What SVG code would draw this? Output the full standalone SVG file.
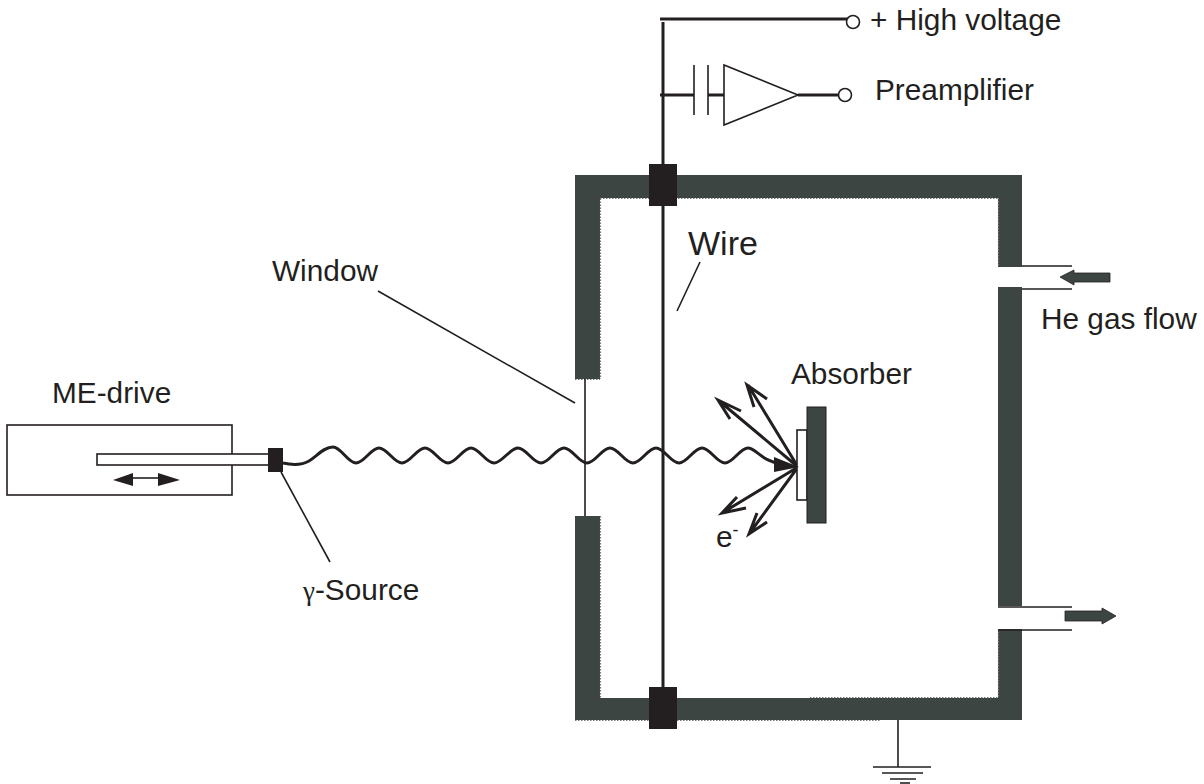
<svg xmlns="http://www.w3.org/2000/svg" width="1204" height="784" viewBox="0 0 1204 784">
<style>
.w{fill:#3d4543}
.b{fill:#231f20}
.l{fill:none;stroke:#231f20;stroke-width:1.6}
.m{fill:none;stroke:#231f20;stroke-width:3}
.a{fill:none;stroke:#231f20;stroke-width:3;stroke-linejoin:miter}
.d{fill:none;stroke:#777;stroke-width:1.200;stroke-dasharray:1.500 1.500}
.c{fill:#fff;stroke:#231f20;stroke-width:1.6}
text{font-family:"Liberation Sans",Arial,sans-serif;font-size:29.800px;fill:#231f20}
</style>
<rect width="1204" height="784" fill="#fff"/>
<g id="chamber">
<path class="w" d="M575 175H1022V267H998V198H600V379H575ZM998 287H1022V606H998ZM998 629H1022V720H575V516H600V698H998Z"/>
<path class="d" d="M600 198.500H998M600.500 198.500V379M575 379.500H600M600.500 516V698M810 697.500H998M575 720.500H880M998.500 198V267M998.500 629V698"/>
</g>
<g id="connectors">
<path class="m" d="M660 19H848M663 22V700"/>
<path class="m" d="M660 95H694M708 95H724M798 95H839"/>
<path class="l" d="M378 291L575 403M700 262L677 311M281 472L330 562M585 379V516"/>
<path class="m" d="M283 463C292 465 302 465 309 461C317 456 324 447 333 447C341 447 348 463 356 463S371 448 379 448S394 463 402 463S417 448 425 448S440 463 448 463S463 448 471 448S486 463 494 463S510 448 518 448S533 463 541 463S556 448 564 448S579 463 587 463S602 448 610 448S625 463 633 463S648 448 656 448S671 463 679 463S694 448 702 448S717 463 725 463S740 448 748 448S762 462 782 464"/>
<path class="a" d="M798 467L718 400M741 411L718 400L730 419M798 467L748 385M767 399L747 385L754 407M798 467L722 513M737 497L722 513L746 508M798 467L749 534M757 513L749 534L767 522"/>
<path class="l" d="M1022 266H1072M1022 289H1072M998 607H1072M998 630H1072"/>
<path class="l" d="M898 720V767"/>
</g>
<g id="capacitor"><path class="l" d="M694 65V115M708 65V115"/></g>
<g id="amplifier"><path class="c" d="M724 65V125L798 95Z"/></g>
<g id="high-voltage-terminal"><circle class="c" cx="853" cy="22" r="6.500"/></g>
<g id="preamp-terminal"><circle class="c" cx="845" cy="95" r="6.500"/></g>
<g id="feedthrough-top"><rect class="b" x="649" y="164" width="28" height="42"/></g>
<g id="feedthrough-bottom"><rect class="b" x="649" y="687" width="28" height="42"/></g>
<g id="absorber">
<rect x="797" y="430" width="10" height="70" class="c"/>
<rect x="807" y="407" width="19" height="116" class="w" stroke="#231f20" stroke-width="1"/>
<path class="b" d="M774 457L799 467L774 472Z"/>
</g>
<g id="me-drive">
<rect x="7" y="425" width="225" height="70" fill="#fff" stroke="#231f20" stroke-width="1.600"/>
<rect x="97" y="454" width="172" height="11" class="c"/>
<rect x="268" y="448" width="15" height="24" class="b"/>
<path class="l" d="M130 478H160"/>
<path class="b" d="M113 480L133 473V486ZM180 480L158 473V486Z"/>
</g>
<g id="flow-arrows">
<path class="w" stroke="#231f20" stroke-width=".8" d="M1060 277L1074 270V273H1110V282H1074V285Z"/>
<path class="w" stroke="#231f20" stroke-width=".8" d="M1065 611H1102V608L1116 616L1102 624V621H1065Z"/>
</g>
<g id="ground"><path class="l" d="M873 767H931M882 773H923M890 779H916"/><path class="l" stroke-width="2" d="M900 783H910"/></g>
<g id="labels">
<text x="870" y="30">+ High voltage</text>
<text x="875" y="100">Preamplifier</text>
<text x="688" y="255" style="font-size:34px">Wire</text>
<text x="272" y="281">Window</text>
<text x="1041" y="329">He gas flow</text>
<text x="791" y="384">Absorber</text>
<text x="52" y="403">ME-drive</text>
<text x="716" y="547">e<tspan dy="-11" style="font-size:18px">-</tspan></text>
<text x="303" y="600"><tspan style="font-family:'Liberation Serif',serif;font-size:27px">γ</tspan>-Source</text>
</g>
</svg>
